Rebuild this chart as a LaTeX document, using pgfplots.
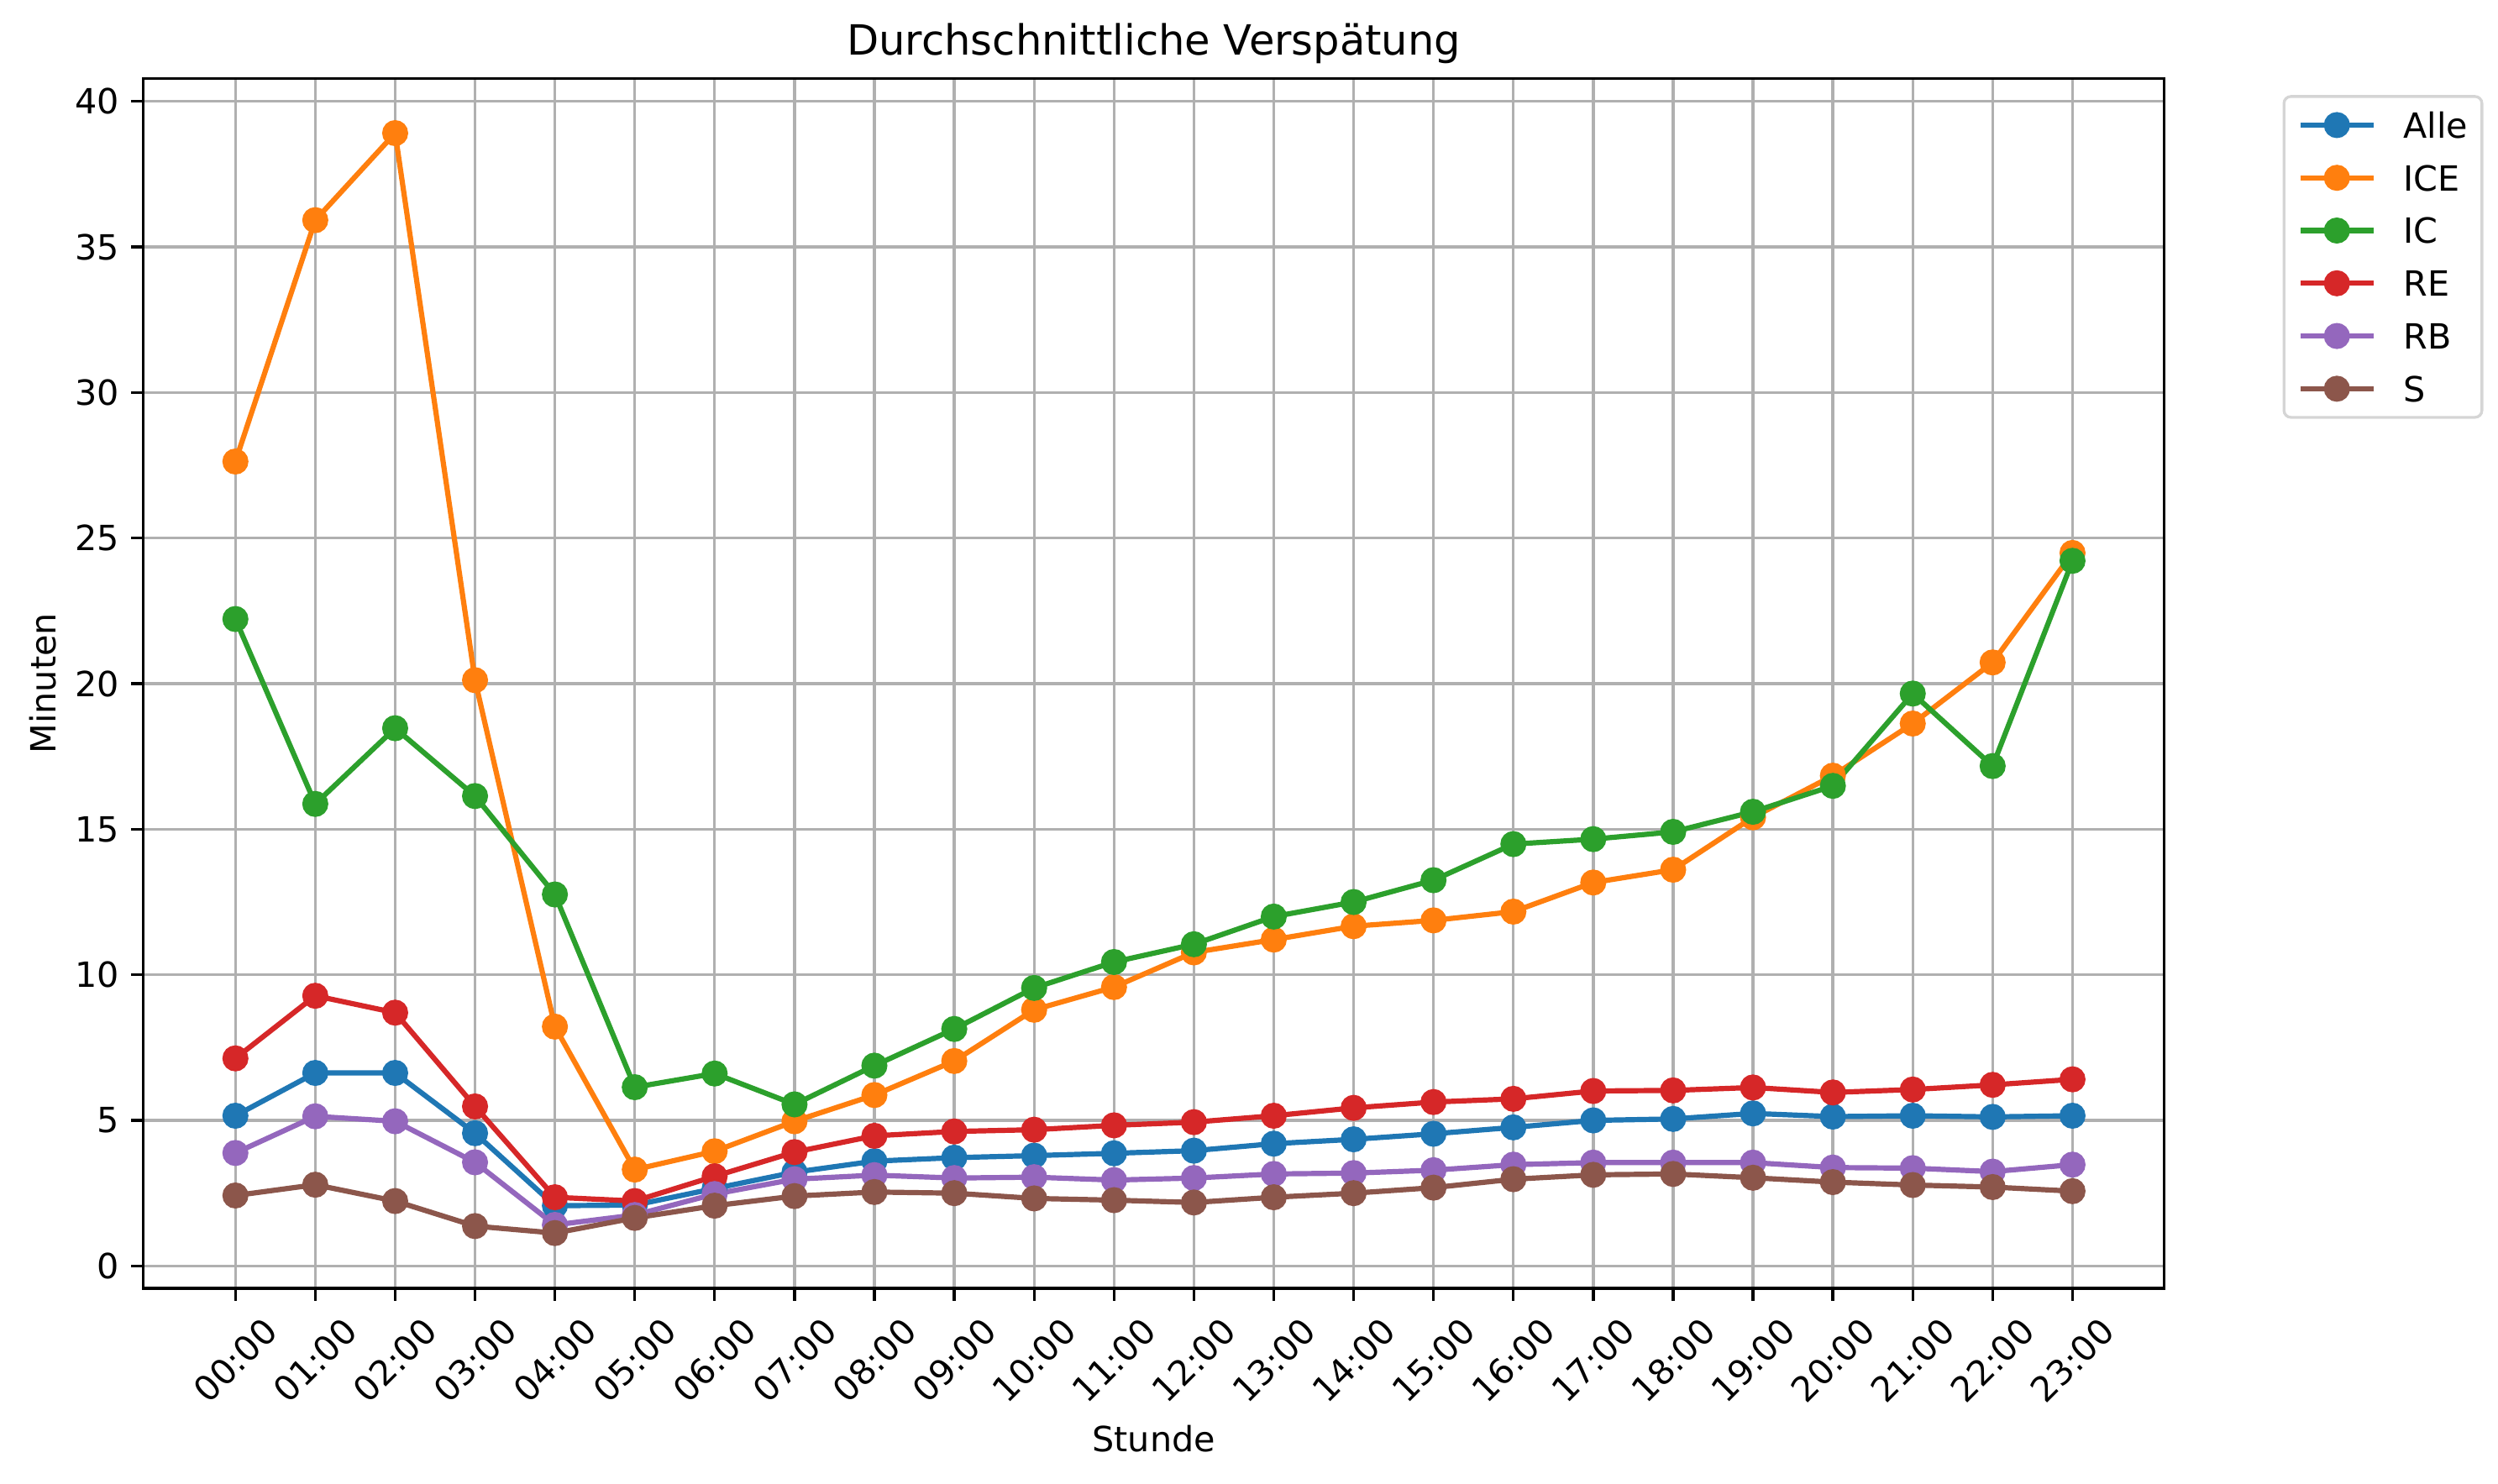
\documentclass[border=0pt]{standalone}
\usepackage{fontspec}
\setmainfont{DejaVu Sans}
\usepackage{pgfplots}
\usepackage{pgfplotstable}
\pgfplotsset{compat=1.18}

\definecolor{c0}{HTML}{1F77B4}
\definecolor{c1}{HTML}{FF7F0E}
\definecolor{c2}{HTML}{2CA02C}
\definecolor{c3}{HTML}{D62728}
\definecolor{c4}{HTML}{9467BD}
\definecolor{c5}{HTML}{8C564B}
\definecolor{gridc}{HTML}{B0B0B0}
\definecolor{legc}{HTML}{D5D5D5}

% mean delay per hour (minutes)
\pgfplotstableread{
h  alle  ice    ic     re    rb    s
0  5.16  27.63  22.22  7.13  3.88  2.42
1  6.63  35.92  15.87  9.28  5.14  2.79
2  6.63  38.91  18.47  8.70  4.97  2.23
3  4.56  20.12  16.14  5.48  3.56  1.37
4  2.07  8.22   12.76  2.36  1.41  1.13
5  2.09  3.31   6.14   2.23  1.75  1.65
6  2.66  3.94   6.61   3.08  2.47  2.07
7  3.22  4.97   5.55   3.91  2.98  2.40
8  3.60  5.87   6.88   4.47  3.12  2.54
9  3.72  7.04   8.14   4.62  3.02  2.50
10 3.79  8.80   9.55   4.68  3.05  2.32
11 3.87  9.58   10.44  4.83  2.95  2.26
12 3.96  10.77  11.05  4.94  3.02  2.18
13 4.20  11.21  12.00  5.16  3.16  2.36
14 4.35  11.67  12.50  5.43  3.19  2.50
15 4.54  11.87  13.25  5.63  3.29  2.69
16 4.76  12.17  14.49  5.74  3.48  2.98
17 5.00  13.17  14.66  6.01  3.55  3.13
18 5.05  13.61  14.91  6.03  3.55  3.16
19 5.24  15.41  15.60  6.13  3.55  3.03
20 5.13  16.84  16.49  5.96  3.38  2.88
21 5.16  18.63  19.66  6.06  3.36  2.78
22 5.12  20.73  17.17  6.22  3.24  2.71
23 5.16  24.49  24.22  6.41  3.48  2.57
}\delays

\begin{document}
\begin{tikzpicture}
\begin{axis}[
    at={(0,0)}, anchor=south west,
    scale only axis,
    width=582.5pt, height=348.8pt,
    xmin=-1.152, xmax=24.15,
    ymin=-0.77, ymax=40.79,
    xtick={0,...,23},
    xticklabels={00:00,01:00,02:00,03:00,04:00,05:00,06:00,07:00,08:00,09:00,10:00,11:00,
        12:00,13:00,14:00,15:00,16:00,17:00,18:00,19:00,20:00,21:00,22:00,23:00},
    ytick={0,5,...,40},
    /pgf/number format/assume math mode=true,
    tick align=outside,
    xtick pos=bottom, ytick pos=left,
    major tick length=3.5pt,
    tick style={black, line width=0.8pt},
    axis line style={line width=0.8pt},
    grid=major,
    major grid style={draw=gridc, line width=0.8pt},
    ticklabel style={font=\fontsize{10}{12}\selectfont},
    xticklabel style={yshift=-17.2pt, rotate=45, anchor=center, inner sep=0pt},
    yticklabel style={anchor=east},
    title={Durchschnittliche Verspätung},
    title style={at={(axis description cs:0.5,1)}, anchor=base, yshift=0.7pt,
        inner sep=0pt, font=\fontsize{12}{14.4}\selectfont},
    xlabel={Stunde},
    xlabel style={at={(axis description cs:0.5,0)}, anchor=base, yshift=-47pt, inner sep=0pt},
    ylabel={Minuten},
    ylabel style={at={([xshift=-25.2pt]axis description cs:0,0.5)}, anchor=base, inner sep=0pt},
    every axis plot/.append style={line width=1.5pt, mark=*, mark size=3pt,
        mark options={solid, draw=none}},
    legend style={at={(1.0585,0.9862)}, anchor=north west,
        draw=legc, line width=0.8pt, rounded corners=2pt, fill=white,
        inner xsep=4pt, inner ysep=4.5pt, row sep=7.7pt, column sep=8pt,
        nodes={inner sep=0pt, text height=7.5pt, text depth=0pt, anchor=west},
        font=\fontsize{10}{12}\selectfont},
    legend cell align=left,
    legend image code/.code={\draw[mark repeat=2, mark phase=2]
        plot coordinates {(0pt,0pt) (10.5pt,0pt) (21pt,0pt)};},
]
\addplot[color=c0] table[x=h, y=alle] {\delays};
\addplot[color=c1] table[x=h, y=ice] {\delays};
\addplot[color=c2] table[x=h, y=ic] {\delays};
\addplot[color=c3] table[x=h, y=re] {\delays};
\addplot[color=c4] table[x=h, y=rb] {\delays};
\addplot[color=c5] table[x=h, y=s] {\delays};
\legend{Alle, ICE, IC, RE, RB, S}
\end{axis}
\pgfresetboundingbox
\useasboundingbox (-41.33pt,-56.15pt) rectangle (678.67pt,371.4pt);
\end{tikzpicture}
\end{document}
